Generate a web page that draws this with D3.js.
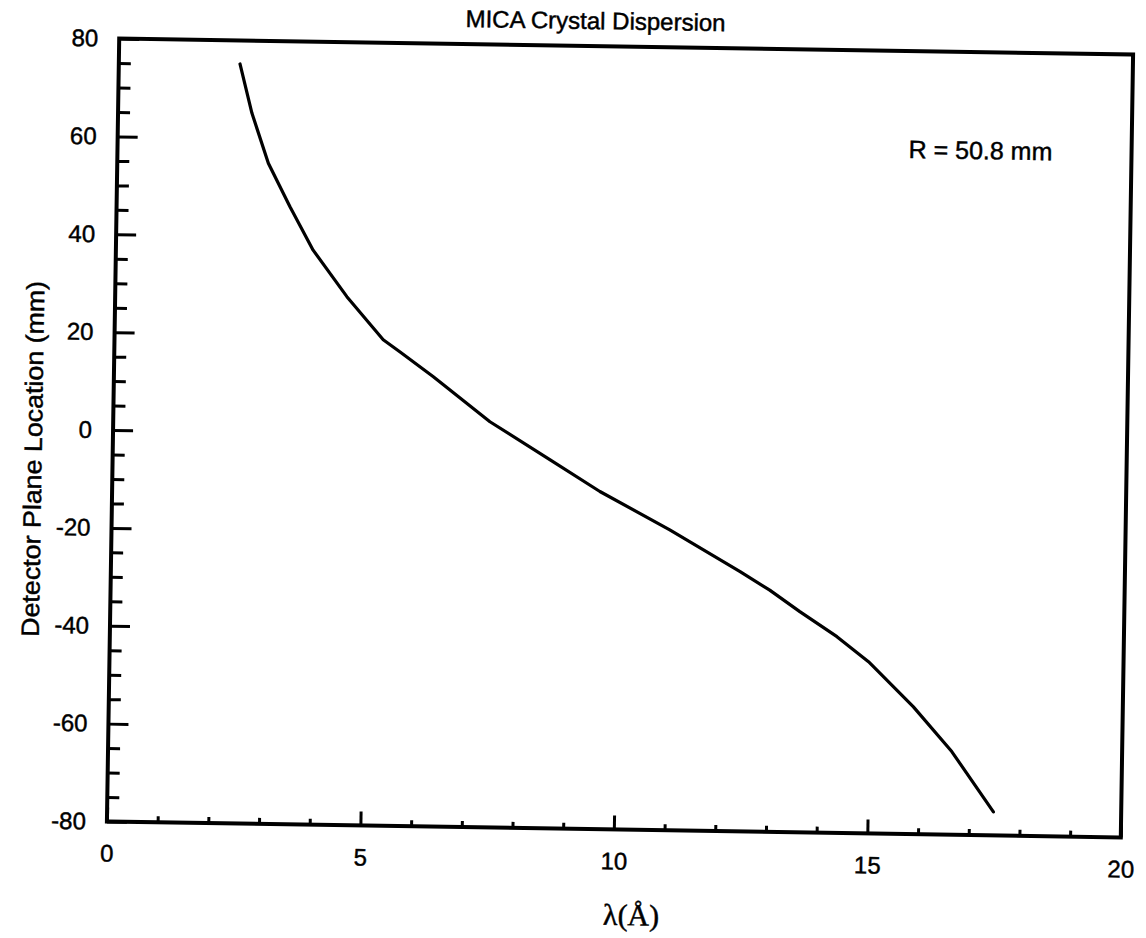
<!DOCTYPE html>
<html>
<head>
<meta charset="utf-8">
<script src="https://cdn.jsdelivr.net/npm/d3@7"></script>
<style>
  html, body { margin: 0; padding: 0; background: #fff; }
  svg { display: block; }
  text { font-family: "Liberation Sans", Arial, Helvetica, sans-serif; fill: #000; stroke: #000; stroke-width: 0.45px; }
</style>
</head>
<body>
<svg id="chart" width="1146" height="938"></svg>
<script>
// ---- data ----
const wavelength = [2.39, 2.64, 2.98, 3.42, 3.89, 4.57, 5.30, 5.63, 6.30, 7.43, 8.63, 9.62, 11.01, 12.41, 13.0, 13.6, 14.34, 14.97, 15.87, 16.64, 17.48];
const detectorPos = [75.2, 65.2, 55.0, 46.2, 37.4, 28.0, 19.3, 16.9, 11.9, 2.9, -4.7, -11.0, -18.6, -26.9, -30.6, -34.9, -39.9, -44.9, -54.0, -63.0, -75.2];
const xMajorTicks = [0, 5, 10, 15, 20];
const xMinorTicks = [1, 2, 3, 4, 6, 7, 8, 9, 11, 12, 13, 14, 16, 17, 18, 19];
const yMajorTicks = [-80, -60, -40, -20, 0, 20, 40, 60, 80];
const yMinorTicks = [-75, -70, -65, -55, -50, -45, -35, -30, -25, -15, -10, -5, 5, 10, 15, 25, 30, 35, 45, 50, 55, 65, 70, 75];
const titleText = "MICA Crystal Dispersion";
const xLabelText = "λ(Å)";
const yLabelText = "Detector Plane Location (mm)";
const noteText = "R = 50.8 mm";

// ---- layout ----
const svg = d3.select("#chart");
const plotLeft = 113, plotRight = 1127, plotTop = 46.5, plotBottom = 829.5;
const root = svg.append("g").attr("transform", "rotate(0.9, 620, 438)");

const x = d3.scaleLinear().domain([0, 20]).range([plotLeft, plotRight]);
const y = d3.scaleLinear().domain([-80, 80]).range([plotBottom, plotTop]);
const fmt = d => String(d);

// minor ticks
root.append("g").attr("transform", `translate(0,${plotBottom})`)
  .call(d3.axisBottom(x).tickValues(xMinorTicks).tickSize(-6).tickFormat(""))
  .call(g => g.select(".domain").remove())
  .call(g => g.selectAll("line").attr("stroke", "#000").attr("stroke-width", 3));
root.append("g").attr("transform", `translate(${plotLeft},0)`)
  .call(d3.axisLeft(y).tickValues(yMinorTicks).tickSize(-12).tickFormat(""))
  .call(g => g.select(".domain").remove())
  .call(g => g.selectAll("line").attr("stroke", "#000").attr("stroke-width", 3));

// major ticks with labels
root.append("g").attr("transform", `translate(0,${plotBottom})`)
  .call(d3.axisBottom(x).tickValues(xMajorTicks).tickSize(-14).tickPadding(23).tickFormat(fmt))
  .call(g => g.select(".domain").remove())
  .call(g => g.selectAll("line").attr("stroke", "#000").attr("stroke-width", 3))
  .call(g => g.selectAll("text").attr("font-size", 24).attr("font-family", "Liberation Sans, Arial, sans-serif"));
root.append("g").attr("transform", `translate(${plotLeft},0)`)
  .call(d3.axisLeft(y).tickValues(yMajorTicks).tickSize(-20).tickPadding(21).tickFormat(fmt))
  .call(g => g.select(".domain").remove())
  .call(g => g.selectAll("line").attr("stroke", "#000").attr("stroke-width", 3))
  .call(g => g.selectAll("text").attr("font-size", 24).attr("font-family", "Liberation Sans, Arial, sans-serif"));

// frame
root.append("rect")
  .attr("x", plotLeft).attr("y", plotTop)
  .attr("width", plotRight - plotLeft).attr("height", plotBottom - plotTop)
  .attr("fill", "none").attr("stroke", "#000").attr("stroke-width", 4);

// curve
const pts = wavelength.map((w, i) => [w, detectorPos[i]]);
root.append("path")
  .datum(pts)
  .attr("fill", "none").attr("stroke", "#000").attr("stroke-width", 3.2)
  .attr("stroke-linejoin", "round").attr("stroke-linecap", "round")
  .attr("d", d3.line().x(d => x(d[0])).y(d => y(d[1])));

// texts
root.append("text").attr("x", 589).attr("y", 29.5)
  .attr("text-anchor", "middle").attr("font-size", 24).text(titleText);
root.append("text").attr("x", 904).attr("y", 153.5)
  .attr("text-anchor", "start").attr("font-size", 25).text(noteText);
root.append("text").attr("x", 638.6).attr("y", 925)
  .attr("text-anchor", "middle").attr("font-size", 30)
  .style("font-family", "'Liberation Serif', 'Times New Roman', serif").text(xLabelText);
root.append("text")
  .attr("transform", "translate(42,468) rotate(-90)")
  .attr("text-anchor", "middle").attr("font-size", 25)
  .attr("textLength", 356).attr("lengthAdjust", "spacingAndGlyphs")
  .text(yLabelText);
</script>
</body>
</html>
